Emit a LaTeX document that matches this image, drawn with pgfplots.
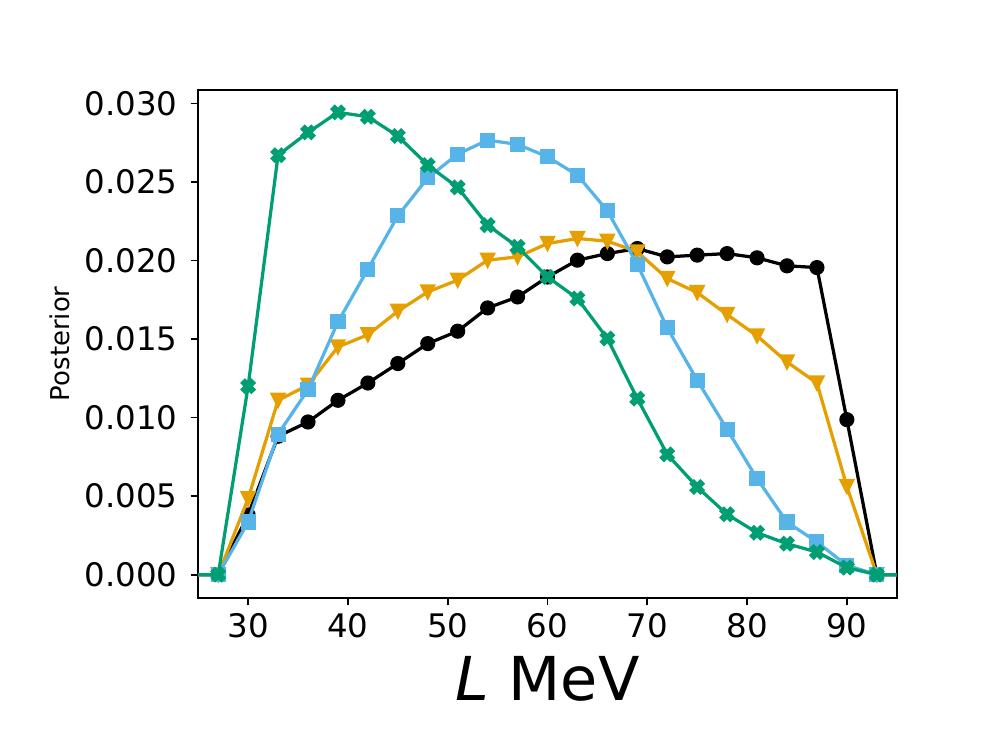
\documentclass[border=0pt]{standalone}
\usepackage{fontspec}
\setmainfont{DejaVu Sans}
\usepackage{pgfplots}
\usepackage{pgfplotstable}
\pgfplotsset{compat=1.18}

\definecolor{corange}{HTML}{E69F00}
\definecolor{cblue}{HTML}{56B4E9}
\definecolor{cgreen}{HTML}{009E73}

% matplotlib-like 'v' and filled 'X' markers
\pgfdeclareplotmark{vtri}{%
  \pgfpathmoveto{\pgfqpoint{0pt}{-\pgfplotmarksize}}%
  \pgfpathlineto{\pgfqpoint{\pgfplotmarksize}{\pgfplotmarksize}}%
  \pgfpathlineto{\pgfqpoint{-\pgfplotmarksize}{\pgfplotmarksize}}%
  \pgfpathclose\pgfusepathqfillstroke}
\pgfdeclareplotmark{Xfill}{%
  \pgfpathmoveto{\pgfqpoint{-0.5\pgfplotmarksize}{-1\pgfplotmarksize}}%
  \pgfpathlineto{\pgfqpoint{0pt}{-0.5\pgfplotmarksize}}%
  \pgfpathlineto{\pgfqpoint{0.5\pgfplotmarksize}{-1\pgfplotmarksize}}%
  \pgfpathlineto{\pgfqpoint{1\pgfplotmarksize}{-0.5\pgfplotmarksize}}%
  \pgfpathlineto{\pgfqpoint{0.5\pgfplotmarksize}{0pt}}%
  \pgfpathlineto{\pgfqpoint{1\pgfplotmarksize}{0.5\pgfplotmarksize}}%
  \pgfpathlineto{\pgfqpoint{0.5\pgfplotmarksize}{1\pgfplotmarksize}}%
  \pgfpathlineto{\pgfqpoint{0pt}{0.5\pgfplotmarksize}}%
  \pgfpathlineto{\pgfqpoint{-0.5\pgfplotmarksize}{1\pgfplotmarksize}}%
  \pgfpathlineto{\pgfqpoint{-1\pgfplotmarksize}{0.5\pgfplotmarksize}}%
  \pgfpathlineto{\pgfqpoint{-0.5\pgfplotmarksize}{0pt}}%
  \pgfpathlineto{\pgfqpoint{-1\pgfplotmarksize}{-0.5\pgfplotmarksize}}%
  \pgfpathclose\pgfusepathqfillstroke}

\pgfplotstableread{
x   black    orange   blue     green
24  0        0        0        0
27  0        0        0        0
30  0.00380  0.00484  0.00335  0.01200
33  0.00881  0.01110  0.00894  0.02670
36  0.00972  0.01206  0.01178  0.02815
39  0.01110  0.01450  0.01609  0.02943
42  0.01220  0.01527  0.01945  0.02915
45  0.01344  0.01677  0.02284  0.02792
48  0.01471  0.01800  0.02526  0.02607
51  0.01550  0.01875  0.02677  0.02465
54  0.01698  0.02002  0.02766  0.02225
57  0.01768  0.02023  0.02739  0.02087
60  0.01895  0.02108  0.02660  0.01895
63  0.02002  0.02140  0.02543  0.01758
66  0.02044  0.02123  0.02316  0.01503
69  0.02076  0.02055  0.01975  0.01121
72  0.02023  0.01885  0.01571  0.00766
75  0.02034  0.01796  0.01238  0.00558
78  0.02044  0.01656  0.00925  0.00384
81  0.02017  0.01520  0.00611  0.00267
84  0.01966  0.01354  0.00335  0.00197
87  0.01955  0.01220  0.00208  0.00144
90  0.00987  0.00562  0.00059  0.00045
93  0        0        0        0
96  0        0        0        0
}\posterior

\begin{document}
\begin{tikzpicture}
\useasboundingbox (-91.7pt,-69.1pt) rectangle (369pt,276.5pt);
\begin{axis}[
    at={(0,0)}, anchor=south west,
    scale only axis,
    width=323.1pt, height=235pt,
    xmin=25, xmax=95,
    ymin=-0.00147, ymax=0.03087,
    xtick={30,40,50,60,70,80,90},
    ytick={0,0.005,0.010,0.015,0.020,0.025,0.030},
    scaled y ticks=false,
    yticklabel style={xshift=-2.5pt, /pgf/number format/.cd, fixed, fixed zerofill, precision=3},
    /pgf/number format/assume math mode=true,
    ticklabel style={font=\fontsize{15}{18}\selectfont},
    tick align=outside, tick pos=left,
    major tick length=3.5pt,
    tick style={black, line width=0.8pt},
    axis line style={line width=0.8pt},
    xlabel={\textit{L} MeV},
    xlabel style={font=\fontsize{28}{34}\selectfont, at={(axis description cs:0.5,-0.2014)}, anchor=base, inner sep=0pt},
    ylabel={Posterior},
    ylabel style={font=\fontsize{12}{14}\selectfont, at={(axis description cs:-0.1837,0.5)}, anchor=base, inner sep=0pt},
    clip marker paths=true,
    every axis plot/.append style={line width=1.5pt},
]
\addplot[black, mark=*, mark size=3pt, mark options={line width=1pt}] table[x=x, y=black] {\posterior};
\addplot[corange, mark=vtri, mark size=3pt, mark options={line width=1pt}] table[x=x, y=orange] {\posterior};
\addplot[cblue, mark=square*, mark size=3pt, mark options={line width=1pt}] table[x=x, y=blue] {\posterior};
\addplot[cgreen, mark=Xfill, mark size=3pt, mark options={line width=1pt}] table[x=x, y=green] {\posterior};
\end{axis}
\end{tikzpicture}
\end{document}
